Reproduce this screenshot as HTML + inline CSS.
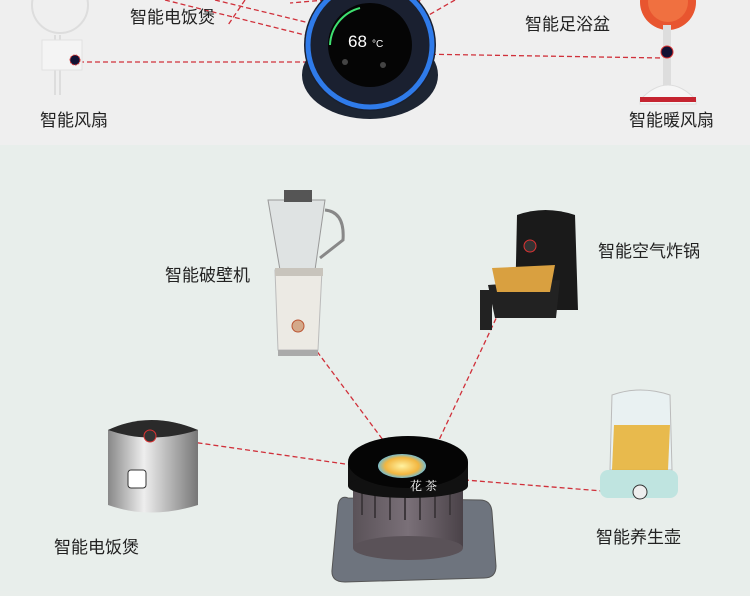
<!DOCTYPE html>
<html><head><meta charset="utf-8"><style>
body{margin:0;width:750px;height:591px;overflow:hidden;background:#e9eeeb;font-family:"Liberation Sans","Noto Sans CJK SC",sans-serif}
</style></head><body>
<svg width="750" height="591" viewBox="0 0 750 591" xmlns="http://www.w3.org/2000/svg" font-family="Liberation Sans, Noto Sans CJK SC, sans-serif">
<defs>
<linearGradient id="cyl" x1="0" x2="1"><stop offset="0" stop-color="#5a5258"/><stop offset=".5" stop-color="#7a7078"/><stop offset="1" stop-color="#4a4248"/></linearGradient>
<linearGradient id="steel" x1="0" x2="1"><stop offset="0" stop-color="#888"/><stop offset=".4" stop-color="#eee"/><stop offset="1" stop-color="#777"/></linearGradient>
<radialGradient id="flower"><stop offset="0" stop-color="#fff2a0"/><stop offset=".7" stop-color="#f2b640"/><stop offset="1" stop-color="#7bc"/></radialGradient>
</defs>
<rect width="750" height="145" fill="#efefef"/>
<rect y="145" width="750" height="446" fill="#e8eeeb"/>
<g stroke="#d0303a" stroke-width="1.3" stroke-dasharray="5,3" fill="none">
<line x1="55" y1="62" x2="330" y2="62"/><line x1="415" y1="54" x2="663" y2="58"/>
<line x1="165" y1="0" x2="325" y2="40"/><line x1="215" y1="0" x2="330" y2="28"/>
<line x1="245" y1="0" x2="228" y2="25"/><line x1="325" y1="0" x2="290" y2="3"/>
<line x1="420" y1="0" x2="410" y2="20"/><line x1="455" y1="0" x2="420" y2="20"/>
</g>
<g fill="none" stroke="#ddd" stroke-width="2"><circle cx="60" cy="5" r="28"/><line x1="60" y1="35" x2="60" y2="95"/><line x1="55" y1="35" x2="55" y2="95"/></g>
<rect x="42" y="40" width="40" height="30" fill="#f4f4f4" stroke="#e2e2e2"/>
<circle cx="75" cy="60" r="5" fill="#113" stroke="#d33" stroke-dasharray="2,1"/>
<circle cx="668" cy="2" r="28" fill="#e8552f"/><circle cx="668" cy="2" r="20" fill="#f07040"/>
<rect x="663" y="25" width="8" height="60" fill="#ddd"/>
<circle cx="667" cy="52" r="6" fill="#113" stroke="#d33"/>
<path d="M640 100 Q668 70 696 100 L696 104 L640 104Z" fill="#f6f6f6" stroke="#ddd"/>
<rect x="640" y="97" width="56" height="5" fill="#c52430"/>
<ellipse cx="370" cy="75" rx="68" ry="44" fill="#1d2533"/>
<circle cx="370" cy="45" r="66" fill="#1a2030"/>
<circle cx="370" cy="45" r="62" fill="none" stroke="#2f7bea" stroke-width="5"/>
<circle cx="370" cy="45" r="42" fill="#050505"/>
<path d="M330 45 A40 40 0 0 1 360 8" stroke="#3ee070" stroke-width="2" fill="none"/>
<text x="348" y="47" font-size="17" fill="#fff">68</text><text x="372" y="47" font-size="10" fill="#fff">°C</text>
<circle cx="345" cy="62" r="3" fill="#444"/><circle cx="383" cy="65" r="3" fill="#444"/>
<g font-size="17" fill="#222">
<text x="130" y="23">智能电饭煲</text><text x="525" y="30">智能足浴盆</text>
<text x="40" y="126">智能风扇</text><text x="629" y="126">智能暖风扇</text>
<text x="165" y="281">智能破壁机</text><text x="598" y="257">智能空气炸锅</text>
<text x="54" y="553">智能电饭煲</text><text x="596" y="543">智能养生壶</text>
</g>
<g stroke="#d0303a" stroke-width="1.3" stroke-dasharray="5,3" fill="none">
<line x1="298" y1="326" x2="383" y2="440"/><line x1="530" y1="246" x2="432" y2="455"/>
<line x1="150" y1="436" x2="373" y2="468"/><line x1="440" y1="478" x2="640" y2="494"/>
</g>
<path d="M268 200 L325 200 L315 270 L280 270Z" fill="#dfe3e3" stroke="#999"/>
<path d="M325 210 Q345 212 343 240 L320 258" fill="none" stroke="#888" stroke-width="3"/>
<rect x="284" y="190" width="28" height="12" fill="#555"/>
<path d="M275 270 L322 270 L318 350 L278 350Z" fill="#eceae4" stroke="#bbb"/>
<rect x="275" y="268" width="48" height="8" fill="#c8c4bc"/>
<circle cx="298" cy="326" r="6" fill="#d4a98a" stroke="#b53"/>
<rect x="278" y="350" width="40" height="6" fill="#aaa"/>
<path d="M517 215 Q545 205 575 215 L578 310 L515 310Z" fill="#1a1a1a"/>
<circle cx="530" cy="246" r="6" fill="#333" stroke="#d33"/>
<path d="M488 285 L560 280 L556 318 L495 318Z" fill="#222"/>
<path d="M492 268 L555 265 L550 292 L497 292Z" fill="#d9a040"/>
<rect x="480" y="290" width="12" height="40" fill="#222"/>
<path d="M108 430 Q150 410 198 430 L198 505 Q150 520 108 505Z" fill="url(#steel)"/>
<path d="M108 430 Q150 410 198 430 Q150 445 108 430Z" fill="#2a2a2a"/>
<rect x="128" y="470" width="18" height="18" rx="3" fill="#fff" stroke="#333"/>
<circle cx="150" cy="436" r="6" fill="#333" stroke="#d33"/>
<path d="M612 395 Q640 385 670 395 L672 470 L610 470Z" fill="#e9f1f2" stroke="#bbb"/>
<path d="M614 425 L670 425 L668 470 L612 470Z" fill="#e8b030" opacity=".85"/>
<rect x="600" y="470" width="78" height="28" rx="8" fill="#bfe4e0"/>
<circle cx="640" cy="492" r="7" fill="#eee" stroke="#333"/>
<path d="M348 498 Q340 495 338 505 L332 570 Q331 582 345 582 L484 578 Q496 578 496 566 L492 512 Q491 500 480 500Z" fill="#6e747e" stroke="#555"/>
<rect x="353" y="470" width="110" height="78" fill="url(#cyl)"/>
<ellipse cx="408" cy="548" rx="55" ry="12" fill="#5a5258"/>
<g stroke="#3e383c" stroke-width="2"><line x1="362" y1="485" x2="362" y2="515"/><line x1="375" y1="490" x2="375" y2="518"/><line x1="390" y1="492" x2="390" y2="520"/><line x1="405" y1="493" x2="405" y2="520"/><line x1="420" y1="493" x2="420" y2="520"/><line x1="435" y1="491" x2="435" y2="518"/><line x1="450" y1="488" x2="450" y2="515"/></g>
<rect x="348" y="462" width="120" height="24" fill="#111"/>
<ellipse cx="408" cy="486" rx="60" ry="12" fill="#111"/>
<ellipse cx="408" cy="462" rx="60" ry="26" fill="#050505"/>
<ellipse cx="402" cy="466" rx="24" ry="12" fill="url(#flower)"/>
<text x="410" y="490" font-size="12" fill="#fff" font-family="Noto Serif CJK SC, serif">花 茶</text>
</svg>
</body></html>
